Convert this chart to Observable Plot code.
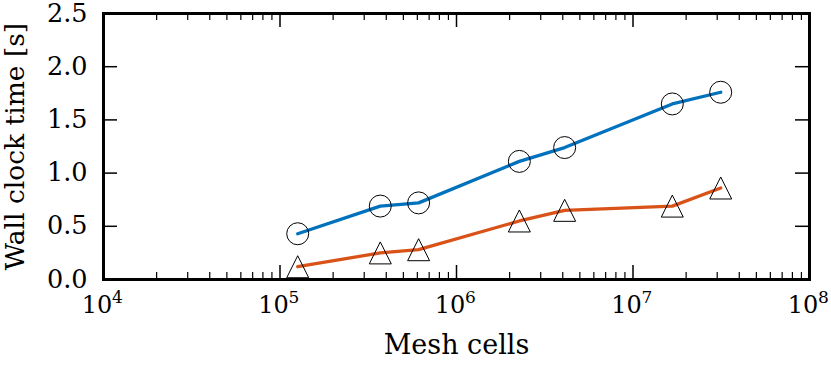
<!DOCTYPE html>
<html><head><meta charset="utf-8">
<script src="https://cdn.jsdelivr.net/npm/d3@7"></script>
<script src="https://cdn.jsdelivr.net/npm/@observablehq/plot@0.6"></script>
<style>
body{margin:0;background:#fff}
svg, svg text{font-family:"DejaVu Serif","Liberation Serif",serif !important}
</style>
</head><body><div id="chart"></div>
<script>
// Data
const meshCells = [1.26e5, 3.7e5, 6.1e5, 2.27e6, 4.1e6, 1.67e7, 3.14e7];
const circleTimes = [0.43, 0.69, 0.72, 1.11, 1.24, 1.65, 1.76];
const triangleTimes = [0.12, 0.25, 0.28, 0.55, 0.65, 0.69, 0.86];
const xMajorTicks = [1e4, 1e5, 1e6, 1e7, 1e8];
const xExponents = ["4", "5", "6", "7", "8"];
const yTicks = [0, 0.5, 1.0, 1.5, 2.0, 2.5];
const xLabel = "Mesh cells";
const yLabel = "Wall clock time [s]";

const W = 831, H = 370, mL = 103, mR = 22, mT = 13, mB = 91;
const ph = H - mT - mB, pw = W - mL - mR;
const majorLen = 14, minorLen = 7;

const rows = meshCells.map((x, i) => ({x, c: circleTimes[i], t: triangleTimes[i]}));
const xMinorTicks = [];
for (const d of xMajorTicks.slice(0, -1)) for (let k = 2; k <= 9; k++) xMinorTicks.push(k * d);

const triangle = {
  draw(ctx, size) {
    const r = Math.sqrt(size / Math.PI);
    ctx.moveTo(0, -r); ctx.lineTo(r, r); ctx.lineTo(-r, r); ctx.closePath();
  }
};

const serif = "'DejaVu Serif','Liberation Serif',serif";
const chart = Plot.plot({
  width: W, height: H,
  marginLeft: mL, marginRight: mR, marginTop: mT, marginBottom: mB,
  style: `background:#fff;font-family:${serif};`,
  x: {type: "log", domain: [1e4, 1e8], axis: null},
  y: {domain: [0, 2.5], axis: null},
  marks: [
    Plot.ruleX(xMajorTicks, {x: d => d, insetTop: ph - majorLen, stroke: "black", strokeWidth: 1.5}),
    Plot.ruleX(xMajorTicks, {x: d => d, insetBottom: ph - majorLen, stroke: "black", strokeWidth: 1.5}),
    Plot.ruleX(xMinorTicks, {x: d => d, insetTop: ph - minorLen, stroke: "black", strokeWidth: 1.2}),
    Plot.ruleX(xMinorTicks, {x: d => d, insetBottom: ph - minorLen, stroke: "black", strokeWidth: 1.2}),
    Plot.ruleY(yTicks, {y: d => d, insetRight: pw - majorLen, stroke: "black", strokeWidth: 1.5}),
    Plot.ruleY(yTicks, {y: d => d, insetLeft: pw - majorLen, stroke: "black", strokeWidth: 1.5}),
    Plot.axisY(yTicks, {tickSize: 0, tickPadding: 16, tickFormat: d3.format(".1f"), fontSize: 25.5, fontFamily: serif, label: null, fill: "black"}),
    Plot.text(xMajorTicks, {x: d => d, text: () => "10", frameAnchor: "bottom", dy: 33, dx: -6.5, fontSize: 24, fontFamily: serif, fill: "black"}),
    Plot.text(xMajorTicks, {x: d => d, text: (d, i) => xExponents[i], frameAnchor: "bottom", dy: 23, dx: 8.5, textAnchor: "start", fontSize: 17, fontFamily: serif, fill: "black"}),
    Plot.text([xLabel], {frameAnchor: "bottom", dy: 74, fontSize: 27, fontFamily: serif, fill: "black"}),
    Plot.text([yLabel], {frameAnchor: "left", textAnchor: "middle", rotate: -90, dx: -88, fontSize: 26.5, fontFamily: serif, fill: "black"}),
    Plot.line(rows, {x: "x", y: "c", stroke: "#0072BD", strokeWidth: 3.3}),
    Plot.line(rows, {x: "x", y: "t", stroke: "#D95319", strokeWidth: 3.3}),
    Plot.dot(rows, {x: "x", y: "c", r: 11, symbol: "circle", fill: "none", stroke: "black", strokeWidth: 1}),
    Plot.dot(rows, {x: "x", y: "t", r: 11, symbol: triangle, fill: "none", stroke: "black", strokeWidth: 1}),
    Plot.frame({stroke: "black", strokeWidth: 3})
  ]
});
document.getElementById("chart").appendChild(chart);
</script>
</body></html>
